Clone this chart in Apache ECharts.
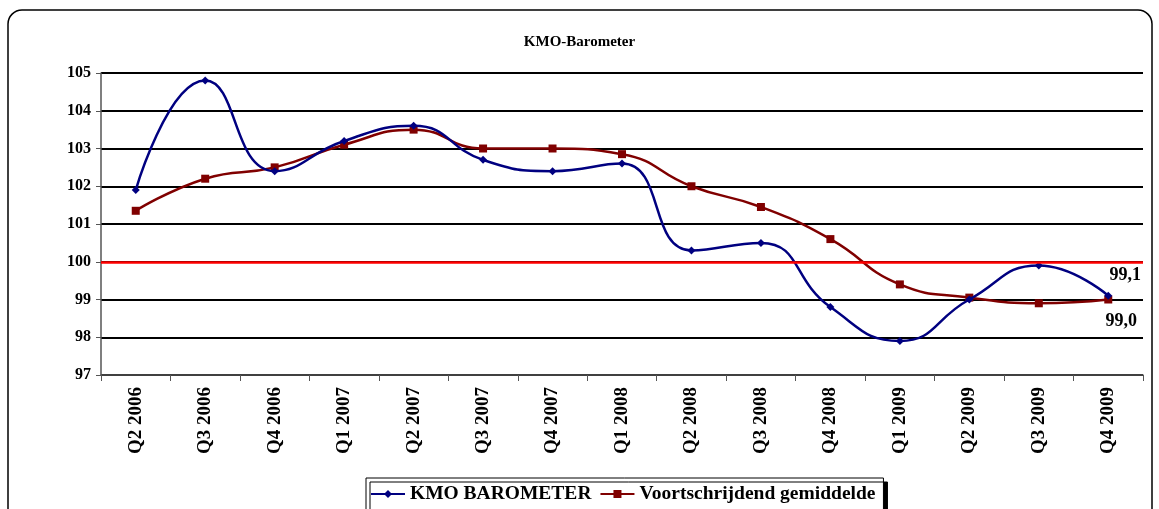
<!DOCTYPE html>
<html>
<head>
<meta charset="utf-8">
<script src="https://cdn.jsdelivr.net/npm/echarts@6/dist/echarts.min.js"></script>
<style>
  html, body { margin: 0; padding: 0; background: #fff; }
  #chart { width: 1159px; height: 509px; }
</style>
</head>
<body>
<div id="chart"></div>
<script>
var quarters = ['Q2 2006', 'Q3 2006', 'Q4 2006', 'Q1 2007', 'Q2 2007', 'Q3 2007', 'Q4 2007', 'Q1 2008',
  'Q2 2008', 'Q3 2008', 'Q4 2008', 'Q1 2009', 'Q2 2009', 'Q3 2009', 'Q4 2009'];
var barometer = [101.9, 104.8, 102.4, 103.2, 103.6, 102.7, 102.4, 102.6, 100.3, 100.5, 98.8, 97.9, 99.0, 99.9, 99.1];
var movingAvg = [101.35, 102.2, 102.5, 103.1, 103.5, 103.0, 103.0, 102.85, 102.0, 101.45, 100.6, 99.4, 99.05, 98.9, 99.0];

var serif = '"Liberation Serif", "Times New Roman", serif';

function lastLabel(pos, offset) {
  return {
    show: true,
    position: pos,
    offset: offset,
    fontFamily: serif,
    fontWeight: 'bold',
    fontSize: 18,
    color: '#000',
    formatter: function (p) {
      return p.dataIndex === quarters.length - 1 ? p.value.toFixed(1).replace('.', ',') : '';
    }
  };
}

var chart = echarts.init(document.getElementById('chart'));

var option = {
  backgroundColor: '#fff',
  animation: false,
  title: {
    text: 'KMO-Barometer',
    left: 'center',
    top: 30,
    textStyle: { fontFamily: serif, fontWeight: 'bold', fontSize: 15, color: '#000' }
  },
  graphic: [{
    type: 'rect',
    z: -1,
    shape: { x: 8, y: 10, width: 1144, height: 530, r: 14 },
    style: { fill: 'none', stroke: '#000', lineWidth: 1.5 }
  }],
  legend: {
    left: 366,
    top: 478,
    padding: [6, 8, 10, 4],
    itemWidth: 34,
    itemHeight: 10,
    itemGap: 8,
    borderColor: '#000',
    borderWidth: 1,
    backgroundColor: '#fff',
    shadowColor: '#000',
    shadowOffsetX: 4,
    shadowOffsetY: 4,
    shadowBlur: 0,
    textStyle: { fontFamily: serif, fontWeight: 'bold', fontSize: 19.5, color: '#000' },
    data: ['KMO BAROMETER', 'Voortschrijdend gemiddelde']
  },
  grid: { left: 101, right: 16, top: 73, bottom: 134 },
  xAxis: {
    type: 'category',
    data: quarters,
    boundaryGap: true,
    axisLine: { lineStyle: { color: '#555', width: 1.5 } },
    axisTick: { show: true, inside: false, length: 6, lineStyle: { color: '#555' } },
    axisLabel: {
      rotate: 90,
      margin: 12,
      interval: 0,
      fontFamily: serif,
      fontWeight: 'bold',
      fontSize: 19,
      color: '#000'
    }
  },
  yAxis: {
    type: 'value',
    min: 97,
    max: 105,
    interval: 1,
    axisLine: { show: true, lineStyle: { color: '#555', width: 1.5 } },
    axisTick: { show: true, inside: false, length: 5, lineStyle: { color: '#555' } },
    axisLabel: {
      margin: 10,
      fontFamily: serif,
      fontWeight: 'bold',
      fontSize: 16,
      color: '#000'
    },
    splitLine: { show: true, lineStyle: { color: '#000', width: 2 } }
  },
  series: [
    {
      name: 'KMO BAROMETER',
      type: 'line',
      data: barometer,
      smooth: 0.5,
      symbol: 'diamond',
      symbolSize: 8,
      showAllSymbol: true,
      color: '#000080',
      lineStyle: { width: 2.5, color: '#000080' },
      itemStyle: { color: '#000080' },
      label: lastLabel('top', [17, -2]),
      markLine: {
        silent: true,
        symbol: 'none',
        label: { show: false },
        lineStyle: { color: '#ff0000', width: 2.5, type: 'solid' },
        data: [{ yAxis: 100 }]
      },
      z: 3
    },
    {
      name: 'Voortschrijdend gemiddelde',
      type: 'line',
      data: movingAvg,
      smooth: 0.5,
      symbol: 'rect',
      symbolSize: 8,
      showAllSymbol: true,
      color: '#800000',
      lineStyle: { width: 2.5, color: '#800000' },
      itemStyle: { color: '#800000' },
      label: lastLabel('bottom', [13, 4]),
      z: 2
    }
  ]
};

chart.setOption(option);
</script>
</body>
</html>
